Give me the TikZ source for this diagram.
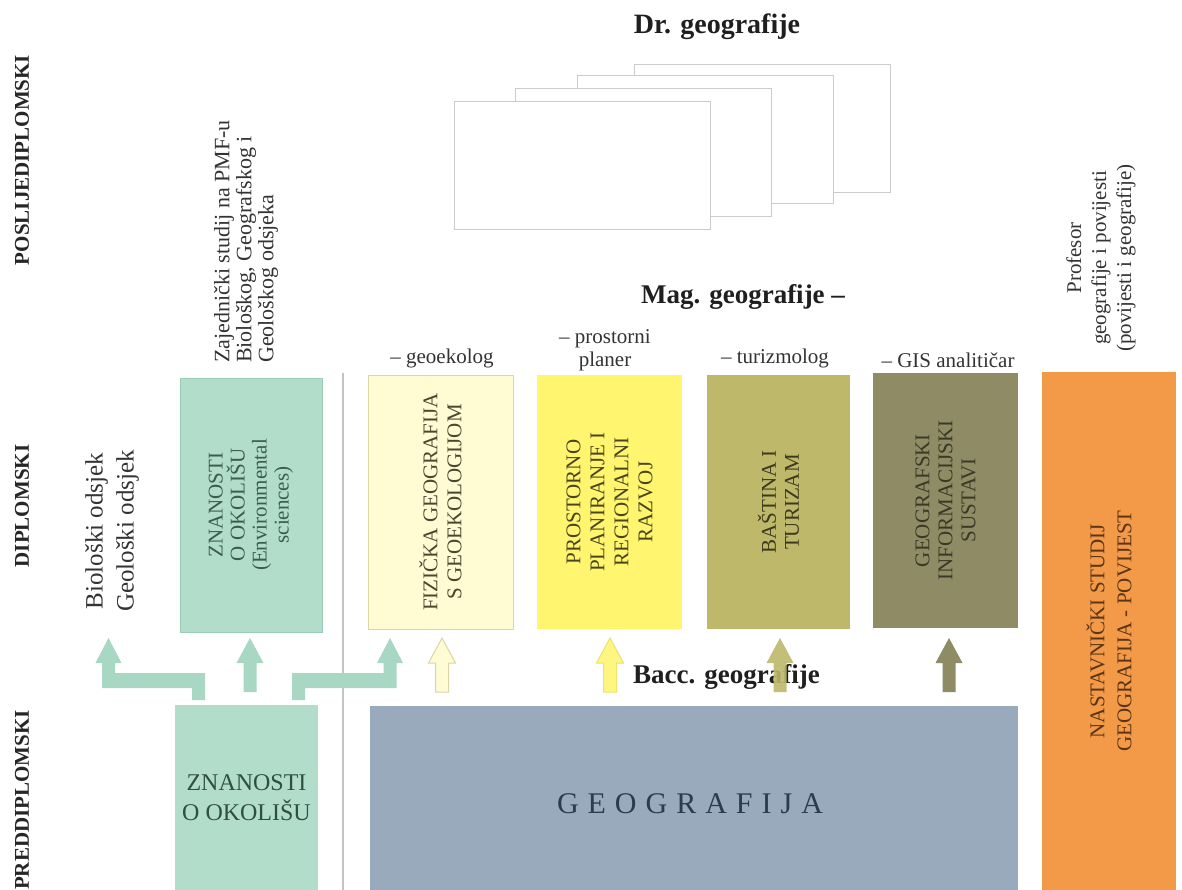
\documentclass[tikz,border=0pt]{standalone}
\usepackage{fontspec}
\setmainfont{Liberation Serif}
\newfontfamily\spacedfont[LetterSpace=30]{Liberation Serif}
\usetikzlibrary{calc}
\definecolor{tealbox}{HTML}{B2DDCB}
\definecolor{tealedge}{HTML}{9CCDB8}
\definecolor{tealarrow}{HTML}{A8D8C4}
\definecolor{paleY}{HTML}{FFFBD2}
\definecolor{paleYedge}{HTML}{DCD6A6}
\definecolor{yell}{HTML}{FFF56E}
\definecolor{olive}{HTML}{BDB86A}
\definecolor{darkolive}{HTML}{8F8B64}
\definecolor{orangebox}{HTML}{F29A48}
\definecolor{geobox}{HTML}{98AABB}
\definecolor{sepgray}{HTML}{C4C4C4}
\definecolor{drgray}{HTML}{CBCBCB}
\tikzset{
  box/.style={rectangle, inner sep=0pt, align=center, font=\fontsize{21}{23}\selectfont},
  vbox/.style={box, rotate=90},
  drbox/.style={rectangle, draw=drgray, line width=1pt, fill=white, minimum width=256pt, minimum height=128pt},
  lvl/.style={rotate=90, font=\bfseries\fontsize{21}{23}\selectfont, text=black!85},
  smalltxt/.style={align=center, font=\fontsize{21}{23}\selectfont, text=black!80, inner sep=0pt},
  bigbold/.style={font=\bfseries\fontsize{27}{30}\selectfont, text=black!88, inner sep=0pt},
  uparr/.pic={\path[pic actions] (-6.5,0) -- (-6.5,-29) -- (-13.5,-29) -- (0,-54) -- (13.5,-29) -- (6.5,-29) -- (6.5,0) -- cycle;}
}
\begin{document}
\begin{tikzpicture}[x=1pt,y=-1pt]
\fill[white] (0,0) rectangle (1182,890);
\useasboundingbox (0,0) rectangle (1182,890);

% level labels
\node[lvl] (lpos) at (22,160) {POSLIJEDIPLOMSKI};
\node[lvl] (ldip) at (22,506) {DIPLOMSKI};
\node[lvl] (lpre) at (22,800) {PREDDIPLOMSKI};

% doctoral stack
\node[drbox] (d4) at (762.5,129) {};
\node[drbox] (d3) at (705.5,140) {};
\node[drbox] (d2) at (643,152.5) {};
\node[drbox] (d1) at (582.5,165.5) {};
\node[bigbold, font=\bfseries\fontsize{28}{30}\selectfont] (dr) at (717,27) {Dr. geografije};
\node[bigbold] (mag) at (743,297) {Mag. geografije --};

% side texts
\node[smalltxt, rotate=90, anchor=west, align=left, font=\fontsize{22}{22}\selectfont] (zaj) at (246,363)
  {Zajednički studij na PMF-u\\Biološkog, Geografskog i\\Geološkog odsjeka};
\node[smalltxt, rotate=90, font=\fontsize{21}{25}\selectfont] (prof) at (1101,258)
  {Profesor\\geografije i povijesti\\(povijesti i geografije)};
\node[smalltxt, rotate=90, font=\fontsize{25}{31}\selectfont] (bio) at (112,531)
  {Biološki odsjek\\Geološki odsjek};

% role labels
\node[smalltxt] (rgeo) at (442,358) {-- geoekolog};
\node[smalltxt] (rpro) at (605,350) {-- prostorni\\planer};
\node[smalltxt] (rtur) at (775,358) {-- turizmolog};
\node[smalltxt] (rgis) at (948,360) {-- GIS analitičar};

% separator
\draw[sepgray, line width=1.3pt] (343,373) -- (343,890);

% graduate boxes
\node[vbox, fill=tealbox, draw=tealedge, minimum width=254pt, minimum height=142pt, text={rgb,255:red,60;green,92;blue,78}, font=\fontsize{21}{22}\selectfont] (tz) at (251,505)
  {ZNANOSTI\\O OKOLIŠU\\(Environmental\\sciences)};
\node[vbox, fill=paleY, draw=paleYedge, minimum width=254pt, minimum height=145pt, text={rgb,255:red,74;green,70;blue,48}, font=\fontsize{21}{24}\selectfont] (fiz) at (440.5,502)
  {FIZIČKA GEOGRAFIJA\\S GEOEKOLOGIJOM};
\node[vbox, fill=yell, minimum width=254pt, minimum height=145pt, text={rgb,255:red,74;green,68;blue,30}, font=\fontsize{21}{24}\selectfont] (pro) at (609.5,502)
  {PROSTORNO\\PLANIRANJE I\\REGIONALNI\\RAZVOJ};
\node[vbox, fill=olive, minimum width=254pt, minimum height=143pt, text={rgb,255:red,60;green,57;blue,30}, font=\fontsize{21}{23}\selectfont] (bas) at (778.5,502)
  {BAŠTINA I\\TURIZAM};
\node[vbox, fill=darkolive, minimum width=255pt, minimum height=145pt, text={rgb,255:red,58;green,56;blue,38}, font=\fontsize{21}{23}\selectfont] (gis) at (945.5,500.5)
  {GEOGRAFSKI\\INFORMACIJSKI\\SUSTAVI};
\node[vbox, fill=orangebox, minimum width=518pt, minimum height=134pt, text={rgb,255:red,90;green,52;blue,20}, font=\fontsize{21}{27}\selectfont] (ora) at (1109,631)
  {NASTAVNIČKI STUDIJ\\GEOGRAFIJA - POVIJEST};

% undergraduate boxes
\node[box, fill=tealbox, minimum width=143pt, minimum height=185pt, text={rgb,255:red,47;green,79;blue,64}, font=\fontsize{24}{30}\selectfont] (zb) at (246.5,797.5)
  {ZNANOSTI\\O OKOLIŠU};
\node[box, fill=geobox, minimum width=648pt, minimum height=184pt] (geo) at (694,798) {};
\node[inner sep=0pt, text={rgb,255:red,46;green,58;blue,78}, font=\spacedfont\fontsize{30}{32}\selectfont] (geot) at (690,804) {GEOGRAFIJA};

% arrows
\path[fill=tealarrow] (205,700) -- (205,673) -- (115,673) -- (115,663) -- (121.5,663) -- (108.5,638)
  -- (95.5,663) -- (102,663) -- (102,688) -- (192,688) -- (192,700) -- cycle;
\path[fill=tealarrow] (292,700) -- (292,673) -- (383.5,673) -- (383.5,663) -- (377,663) -- (390,638)
  -- (403,663) -- (396.5,663) -- (396.5,688) -- (305,688) -- (305,700) -- cycle;
\pic[fill=tealarrow] (atz) at (250,692) {uparr};
\node[bigbold, anchor=west] (bacc) at (633,677) {Bacc. geografije};
\pic[fill=paleY, draw=paleYedge, line width=1pt] (afiz) at (442,692) {uparr};
\pic[fill={rgb,255:red,255;green,246;blue,130}, draw={rgb,255:red,236;green,226;blue,110}, line width=1pt] (apro) at (610,692) {uparr};
\pic[fill=olive, fill opacity=0.9] (abas) at (780,692) {uparr};
\pic[fill=darkolive] (agis) at (949,692) {uparr};
\end{tikzpicture}
\end{document}
